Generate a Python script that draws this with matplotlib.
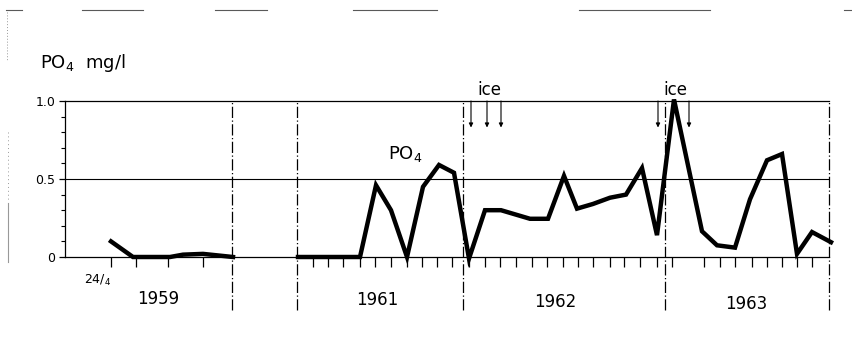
import matplotlib
matplotlib.use("Agg")
import matplotlib.pyplot as plt
from matplotlib import font_manager
from matplotlib.lines import Line2D

# PO4 (mg/l); x = position along the time axis
# (the original uses a broken, non-uniform date scale, 1960 omitted)
x_1959 = [46, 68, 105, 118, 138, 168]
po4_1959 = [0.10, 0.00, 0.00, 0.015, 0.02, 0.00]

x_6163 = [233, 295, 311, 326, 342, 358, 374, 389, 404, 420, 436, 465, 483,
          499, 512, 528, 545, 561, 577, 592, 609, 637, 652, 670, 685, 702,
          717, 732, 747, 766]
po4_6163 = [0.00, 0.00, 0.46, 0.30, 0.00, 0.45, 0.59, 0.54, -0.01, 0.30,
            0.30, 0.245, 0.245, 0.52, 0.31, 0.34, 0.38, 0.40, 0.57, 0.14,
            1.01, 0.165, 0.075, 0.06, 0.37, 0.62, 0.66, 0.02, 0.16, 0.095]

# sampling date ticks under the axis
date_ticks = [46, 71, 103, 138,
              248, 263, 278, 295, 310, 326, 342, 357, 372, 387,
              404, 420, 435, 451, 467, 482, 498, 513, 528, 545, 559, 575, 592,
              607, 639, 655, 670, 687, 702, 717, 732, 747]

year_breaks = [167, 232, 398, 600, 764]
years = ["1959", "1961", "1962", "1963"]
year_x = [93, 312, 490, 681]
year_y = [-0.27, -0.275, -0.29, -0.30]

ice_arrows = [406, 422, 436, 593, 624]
ice_x = [424, 610]

names = {f.name for f in font_manager.fontManager.ttflist}
FONT = "Liberation Sans Narrow" if "Liberation Sans Narrow" in names else "DejaVu Sans"
plt.rcParams["font.family"] = [FONT, "DejaVu Sans"]
plt.rcParams["mathtext.fontset"] = "custom"
plt.rcParams["mathtext.rm"] = FONT

fig = plt.figure(figsize=(8.53, 3.48), dpi=100)
ax = fig.add_axes([65 / 853, 1 - 257 / 348, 764 / 853, 156 / 348])

ax.set_xlim(0, 764)
ax.set_ylim(0, 1.0)

# frame: left axis, 0 and 1.0 lines, right side replaced by dash-dot
ax.spines["right"].set_visible(False)
for s in ["left", "top", "bottom"]:
    ax.spines[s].set_linewidth(0.9)
ax.axhline(0.5, color="black", lw=0.8)

ax.vlines(year_breaks, -0.34, 1.0, colors="black", linestyles=(0, (9, 2, 1, 2)),
          lw=0.9, clip_on=False)

ax.plot(x_1959, po4_1959, color="black", lw=3.2, solid_joinstyle="miter",
        clip_on=False)
ax.plot(x_6163, po4_6163, color="black", lw=3.2, solid_joinstyle="miter",
        clip_on=False)

# y axis ticks
ax.set_yticks([0, 0.5, 1.0])
ax.set_yticklabels(["0", "0.5", "1.0"], fontsize=9)
ax.set_yticks([0.1, 0.2, 0.3, 0.4, 0.6, 0.7, 0.8, 0.9], minor=True)
ax.tick_params(axis="y", which="major", direction="out", length=4, width=0.9, pad=3)
ax.tick_params(axis="y", which="minor", direction="out", length=3, width=0.8)

# x axis: sampling-date ticks, no labels
ax.set_xticks(date_ticks)
ax.set_xticklabels([])
ax.tick_params(axis="x", direction="out", length=7, width=0.9, pad=2)

for lab, xx, yy in zip(years, year_x, year_y):
    ax.text(xx, yy, lab, fontsize=12, ha="center", va="center")
ax.text(33, -0.15, r"24/$_4$", fontsize=9, ha="center", va="center")

# ice periods
for xa in ice_arrows:
    ax.annotate("", xy=(xa, 0.83), xytext=(xa, 1.0),
                arrowprops=dict(arrowstyle="-|>", color="black", lw=0.8,
                                mutation_scale=6, shrinkA=0, shrinkB=0))
for xi in ice_x:
    ax.text(xi, 1.07, "ice", fontsize=12, ha="center", va="center")

ax.text(340, 0.66, r"PO$_4$", fontsize=13, ha="center", va="center")

fig.text(40 / 853, 1 - 63 / 348, r"PO$_4$  mg/l", fontsize=13, ha="left", va="center")

# remains of the scanned page frame
for x0, x1 in [(6, 22), (82, 143), (215, 267), (353, 437), (579, 710), (844, 853)]:
    fig.add_artist(Line2D([x0 / 853, x1 / 853], [1 - 10 / 348] * 2,
                          color="0.35", lw=0.8))
fig.add_artist(Line2D([7 / 853] * 2, [1 - 12 / 348, 1 - 60 / 348],
                      color="0.6", lw=0.7, ls=(0, (1, 2))))
fig.add_artist(Line2D([8 / 853] * 2, [1 - 132 / 348, 1 - 200 / 348],
                      color="0.6", lw=0.7, ls=(0, (1, 3))))
fig.add_artist(Line2D([8 / 853] * 2, [1 - 203 / 348, 1 - 262 / 348],
                      color="0.6", lw=0.8))

fig.savefig("out.png", dpi=100)
